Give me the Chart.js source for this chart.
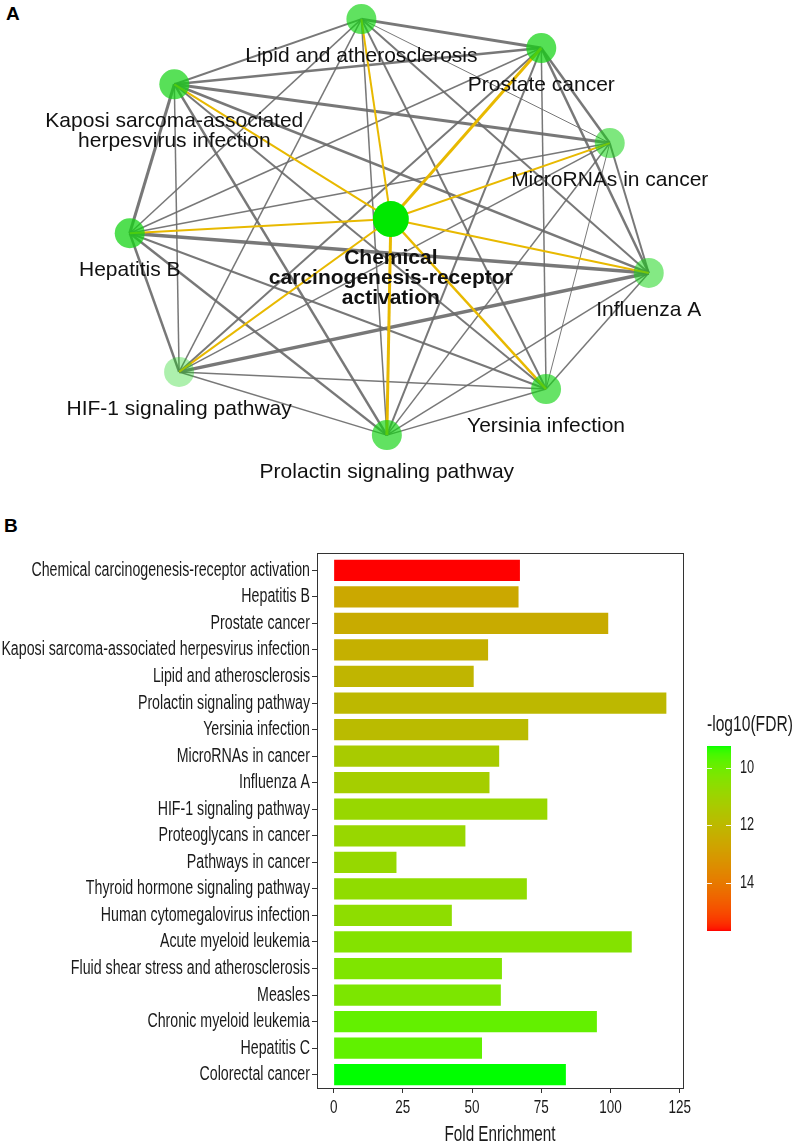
<!DOCTYPE html>
<html>
<head>
<meta charset="utf-8">
<script src="https://cdn.jsdelivr.net/npm/chart.js@4.4.1/dist/chart.umd.min.js"></script>
<style>
  body { margin: 0; background: #fff; width: 796px; height: 1147px; position: relative; overflow: hidden; }
  canvas { position: absolute; left: 0; }
  #netChart { top: 0; }
  #barChart { top: 490px; }
  .panel { position: absolute; font: bold 19px "Liberation Sans", Arial, sans-serif; color: #000; }
</style>
</head>
<body>
<div class="panel" style="left:6px; top:3px">A</div>
<div class="panel" style="left:4px; top:515px">B</div>
<canvas id="netChart" width="796" height="490"></canvas>
<canvas id="barChart" width="796" height="657"></canvas>
<script>
// pathways, top to bottom
var pathways = [
  'Chemical carcinogenesis-receptor activation', 'Hepatitis B', 'Prostate cancer',
  'Kaposi sarcoma-associated herpesvirus infection', 'Lipid and atherosclerosis',
  'Prolactin signaling pathway', 'Yersinia infection', 'MicroRNAs in cancer', 'Influenza A',
  'HIF-1 signaling pathway', 'Proteoglycans in cancer', 'Pathways in cancer',
  'Thyroid hormone signaling pathway', 'Human cytomegalovirus infection', 'Acute myeloid leukemia',
  'Fluid shear stress and atherosclerosis', 'Measles', 'Chronic myeloid leukemia', 'Hepatitis C',
  'Colorectal cancer'
]
var foldEnrichment = [67.3, 66.8, 99.2, 55.8, 50.6, 120.2, 70.3, 59.8, 56.3, 77.2,
                      47.6, 22.7, 69.8, 42.7, 107.7, 60.8, 60.4, 95.1, 53.6, 83.9]
var fdr = [15.69, 12.55, 12.45, 12.3, 12.1, 12.0, 11.9, 11.3, 11.2, 10.85,
           10.85, 10.8, 10.65, 10.6, 10.4, 10.3, 10.25, 9.85, 9.8, 9.23]
var xTicks = [0, 25, 50, 75, 100, 125]
var fdrTicks = [10, 12, 14]

// network: the first 10 pathways, layout coordinates (0-100)
var nodeNames = [
  'Chemical\ncarcinogenesis-receptor\nactivation', 'Hepatitis B', 'Prostate cancer',
  'Kaposi sarcoma-associated\nherpesvirus infection', 'Lipid and atherosclerosis',
  'Prolactin signaling pathway', 'Yersinia infection', 'MicroRNAs in cancer', 'Influenza A',
  'HIF-1 signaling pathway'
]
var nodeX = [49.1, 16.3, 68.0, 21.9, 45.4, 48.6, 68.6, 76.6, 81.5, 22.5]
var nodeY = [44.7, 47.6, 9.8, 17.2, 3.9, 88.8, 79.4, 29.2, 55.7, 75.9]
// [from, to, overlap]
var edges = [
  [0,1,2],[0,2,3],[0,3,2],[0,4,2],[0,5,3],[0,6,2.5],[0,7,2],[0,8,2],[0,9,2],
  [4,2,3],[4,3,2],[4,7,1],[4,1,1.5],[4,8,2],[4,9,1.5],[4,6,2],[4,5,1.5],
  [3,2,2.5],[3,7,3],[3,1,3],[3,8,2.5],[3,9,1.5],[3,6,2],[3,5,2.5],
  [2,7,2.5],[2,1,1.5],[2,8,2.5],[2,9,2],[2,6,1.5],[2,5,2],
  [7,1,1.5],[7,8,2],[7,9,1.5],[7,6,1],[7,5,1.5],
  [1,8,3.5],[1,9,2.5],[1,6,2],[1,5,2.5],
  [8,9,3.5],[8,6,1.5],[8,5,1.5],
  [9,6,1.5],[9,5,1.5],
  [6,5,1.5]
]

var sans = '"Liberation Sans", Arial, sans-serif'
var squeeze = 0.71   // panel B uses a condensed face

// green -> red in Lab space, like ggplot's scale_fill_gradient
function lin(c){ c /= 255; return c <= 0.04045 ? c / 12.92 : Math.pow((c + 0.055) / 1.055, 2.4) }
function gam(c){ c = Math.max(0, Math.min(1, c)); return Math.round(255 * (c <= 0.0031308 ? 12.92 * c : 1.055 * Math.pow(c, 1 / 2.4) - 0.055)) }
function toLab(rgb){
  var r = lin(rgb[0]), g = lin(rgb[1]), b = lin(rgb[2])
  var X = (0.4124 * r + 0.3576 * g + 0.1805 * b) / 0.95047
  var Y = 0.2126 * r + 0.7152 * g + 0.0722 * b
  var Z = (0.0193 * r + 0.1192 * g + 0.9505 * b) / 1.08883
  var f = function(t){ return t > 0.008856 ? Math.cbrt(t) : 7.787 * t + 16 / 116 }
  return [116 * f(Y) - 16, 500 * (f(X) - f(Y)), 200 * (f(Y) - f(Z))]
}
function fromLab(lab){
  var fy = (lab[0] + 16) / 116, fx = fy + lab[1] / 500, fz = fy - lab[2] / 200
  var inv = function(t){ return t * t * t > 0.008856 ? t * t * t : (t - 16 / 116) / 7.787 }
  var X = 0.95047 * inv(fx), Y = inv(fy), Z = 1.08883 * inv(fz)
  return [gam(3.2406 * X - 1.5372 * Y - 0.4986 * Z), gam(-0.9689 * X + 1.8758 * Y + 0.0415 * Z), gam(0.0557 * X - 0.2040 * Y + 1.0570 * Z)]
}
var labLow = toLab([0, 255, 0]), labHigh = toLab([255, 0, 0])
var fdrMin = Math.min.apply(null, fdr), fdrMax = Math.max.apply(null, fdr)
function colorFor(v){
  var t = (v - fdrMin) / (fdrMax - fdrMin)
  var c = fromLab([0, 1, 2].map(function(k){ return labLow[k] + t * (labHigh[k] - labLow[k]) }))
  return 'rgb(' + c.join(',') + ')'
}

// condensed text: draw with a horizontal squeeze
function narrowText(ctx, text, x, y, size, align){
  ctx.save()
  ctx.translate(x, y)
  ctx.scale(squeeze, 1)
  ctx.font = size + 'px ' + sans
  ctx.textAlign = align
  ctx.textBaseline = 'middle'
  ctx.fillStyle = '#1a1a1a'
  ctx.fillText(text, 0, 0)
  ctx.restore()
}

// ---------- panel A: network ----------
var netDatasets = []
edges.forEach(function(e){
  var yellow = e[0] === 0
  netDatasets.push({
    data: [{x: nodeX[e[0]], y: nodeY[e[0]]}, {x: nodeX[e[1]], y: nodeY[e[1]]}],
    showLine: true,
    borderColor: yellow ? '#e8b900' : 'rgba(105,105,105,0.9)',
    borderWidth: e[2],
    pointRadius: 0,
    order: yellow ? 1 : 2
  })
})
var nodeFdr = nodeNames.map(function(n, i){ return fdr[i] })
var nMin = Math.min.apply(null, nodeFdr), nMax = Math.max.apply(null, nodeFdr)
netDatasets.push({
  data: nodeX.map(function(x, i){ return {x: x, y: nodeY[i]} }),
  pointRadius: nodeX.map(function(x, i){ return i === 0 ? 18 : 15 }),
  pointBackgroundColor: nodeFdr.map(function(v, i){
    if (i === 0) return 'rgb(0,232,0)'
    var a = 0.35 + 0.65 * Math.sqrt((v - nMin) / (nMax - nMin))
    return 'rgba(20,212,20,' + a.toFixed(2) + ')'
  }),
  pointBorderWidth: 0,
  order: 0
})

var nodeLabels = {
  id: 'nodeLabels',
  afterDatasetsDraw: function(chart){
    var ctx = chart.ctx, xs = chart.scales.x, ys = chart.scales.y
    ctx.save()
    ctx.textAlign = 'center'
    ctx.textBaseline = 'middle'
    ctx.fillStyle = '#111'
    nodeNames.forEach(function(name, i){
      var px = xs.getPixelForValue(nodeX[i]), py = ys.getPixelForValue(nodeY[i])
      ctx.font = (i === 0 ? 'bold ' : '') + '21px ' + sans
      name.split('\n').forEach(function(line, k){
        ctx.fillText(line, px, py + (i === 0 ? 39 : 37) + k * 20)
      })
    })
    ctx.restore()
  }
}

new Chart(document.getElementById('netChart'), {
  type: 'scatter',
  data: {datasets: netDatasets},
  options: {
    responsive: false,
    animation: false,
    layout: {padding: 0, autoPadding: false},
    plugins: {legend: {display: false}, tooltip: {enabled: false}},
    scales: {
      x: {type: 'linear', min: 0, max: 100, display: false},
      y: {type: 'linear', min: 0, max: 100, reverse: true, display: false}
    }
  },
  plugins: [nodeLabels]
})

// ---------- panel B: bars ----------
var xPad = 0.05 * Math.max.apply(null, foldEnrichment)

var panelText = {
  id: 'panelText',
  afterDatasetsDraw: function(chart){
    var a = chart.chartArea, ctx = chart.ctx
    var xs = chart.scales.x, ys = chart.scales.y
    ctx.save()
    ctx.strokeStyle = '#333'
    ctx.lineWidth = 1
    ctx.strokeRect(Math.round(a.left) + 0.5, Math.round(a.top) + 0.5, Math.round(a.right - a.left), Math.round(a.bottom - a.top))
    ctx.restore()
    pathways.forEach(function(p, i){
      narrowText(ctx, p, a.left - 7, ys.getPixelForValue(i), 20, 'right')
    })
    xTicks.forEach(function(v){
      narrowText(ctx, String(v), xs.getPixelForValue(v), a.bottom + 20, 19, 'center')
    })
    narrowText(ctx, 'Fold Enrichment', (a.left + a.right) / 2, a.bottom + 47, 21.5, 'center')
  }
}

var colorBar = {
  id: 'colorBar',
  afterDraw: function(chart){
    var ctx = chart.ctx
    var left = 707, w = 24, top = 256, bottom = 441
    ctx.save()
    for (var y = top; y < bottom; y++) {
      ctx.fillStyle = colorFor(fdrMin + (y + 0.5 - top) / (bottom - top) * (fdrMax - fdrMin))
      ctx.fillRect(left, y, w, 1)
    }
    fdrTicks.forEach(function(v){
      var y = Math.round(top + (v - fdrMin) / (fdrMax - fdrMin) * (bottom - top)) + 0.5
      ctx.strokeStyle = 'rgba(255,255,255,0.9)'
      ctx.lineWidth = 1
      ctx.beginPath()
      ctx.moveTo(left, y); ctx.lineTo(left + 5, y)
      ctx.moveTo(left + w - 5, y); ctx.lineTo(left + w, y)
      ctx.stroke()
      narrowText(ctx, String(v), left + w + 9, y, 18, 'left')
    })
    ctx.restore()
    narrowText(ctx, '-log10(FDR)', left, 235, 22, 'left')
  }
}

new Chart(document.getElementById('barChart'), {
  type: 'bar',
  data: {
    datasets: [{
      data: foldEnrichment.map(function(v, i){ return {x: v, y: i} }),
      backgroundColor: fdr.map(colorFor),
      borderWidth: 0,
      barPercentage: 0.8,
      categoryPercentage: 1
    }]
  },
  options: {
    indexAxis: 'y',
    responsive: false,
    animation: false,
    layout: {padding: {top: 63, right: 113, left: 0, bottom: 0}},
    plugins: {legend: {display: false}, tooltip: {enabled: false}},
    scales: {
      y: {
        type: 'linear',
        reverse: true,
        offset: false,
        min: -0.65,
        max: pathways.length - 1 + 0.5,
        afterBuildTicks: function(s){ s.ticks = pathways.map(function(p, i){ return {value: i} }) },
        afterFit: function(s){ s.width = 317 },
        ticks: {display: false, autoSkip: false},
        grid: {offset: false, drawOnChartArea: false, drawTicks: true, tickLength: 5, tickColor: '#333'},
        border: {display: false}
      },
      x: {
        type: 'linear',
        offset: false,
        min: -xPad,
        max: Math.max.apply(null, foldEnrichment) + xPad,
        afterBuildTicks: function(s){ s.ticks = xTicks.map(function(v){ return {value: v} }) },
        afterFit: function(s){ s.height = 59 },
        ticks: {display: false},
        grid: {offset: false, drawOnChartArea: false, drawTicks: true, tickLength: 5, tickColor: '#333'},
        border: {display: false}
      }
    }
  },
  plugins: [panelText, colorBar]
})
</script>
</body>
</html>
